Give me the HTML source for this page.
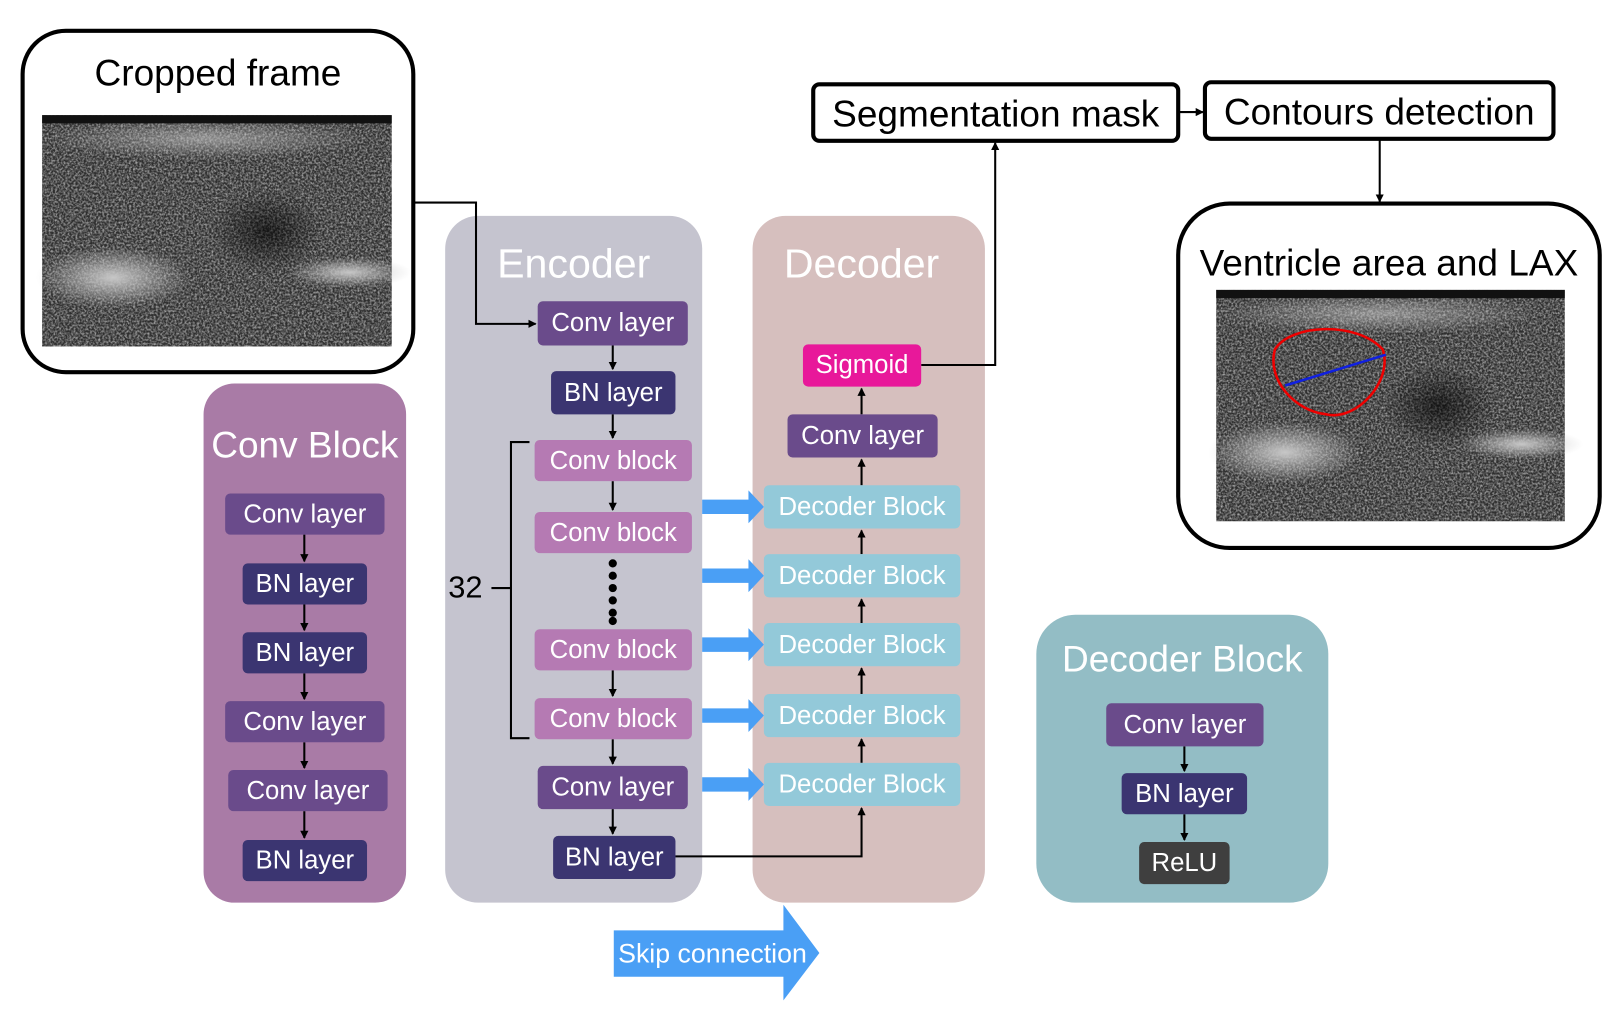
<!DOCTYPE html>
<html><head><meta charset="utf-8"><style>
*{margin:0;padding:0;box-sizing:border-box}
body{width:1610px;height:1019px;background:#fff;position:relative;overflow:hidden;font-family:"Liberation Sans",sans-serif}
#w{position:absolute;left:0;top:0;width:1566px;height:991px;transform:scale(1.0281);transform-origin:0 0}
.a{position:absolute}
.b{position:absolute;border-radius:5px;color:#fff;font-size:25px;display:flex;align-items:center;justify-content:center;white-space:nowrap}
.cl{background:#6a4b8b}.bn{background:#3b3571}.cb{background:#b57ab3}.db{background:#93c9d9}
.t{position:absolute;color:#fff;text-align:center;white-space:nowrap}
</style></head><body><div id="w">
<svg class="a" style="left:0;top:0" width="1566" height="991">
<defs>
<filter id="n" x="0" y="0" width="100%" height="100%">
<feTurbulence type="fractalNoise" baseFrequency="0.5" numOctaves="3" seed="3"/>
<feColorMatrix type="matrix" values="0 0 0 0 0.55 0 0 0 0 0.55 0 0 0 0 0.55 0 0 0 1.6 -0.55"/>
</filter>
<radialGradient id="g1"><stop offset="0" stop-color="#c8c8c8"/><stop offset="1" stop-color="#c8c8c8" stop-opacity="0"/></radialGradient>
<radialGradient id="g2"><stop offset="0" stop-color="#000" stop-opacity=".6"/><stop offset="1" stop-color="#000" stop-opacity="0"/></radialGradient>
<marker id="ar" markerWidth="8" markerHeight="8" refX="7" refY="4" orient="auto" markerUnits="userSpaceOnUse"><path d="M0,0 L8,4 L0,8 z" fill="#000"/></marker>
</defs>
<g>
<rect x="41" y="112" width="340" height="225" fill="#2e2e2e"/>
<ellipse cx="110" cy="270" rx="75" ry="30" fill="url(#g1)"/>
<ellipse cx="340" cy="265" rx="60" ry="15" fill="url(#g1)"/>
<ellipse cx="200" cy="135" rx="160" ry="20" fill="url(#g1)" opacity=".6"/>
<rect x="41" y="112" width="340" height="225" filter="url(#n)"/>
<ellipse cx="260" cy="225" rx="55" ry="40" fill="url(#g2)"/>
<rect x="41" y="112" width="340" height="8" fill="#111"/>
</g>
<rect x="22" y="30" width="380" height="332" rx="42" fill="none" stroke="#000" stroke-width="4"/>
<g>
<rect x="1183" y="282" width="339" height="225" fill="#2e2e2e"/>
<ellipse cx="1250" cy="440" rx="75" ry="30" fill="url(#g1)"/>
<ellipse cx="1480" cy="432" rx="60" ry="15" fill="url(#g1)"/>
<ellipse cx="1340" cy="305" rx="160" ry="20" fill="url(#g1)" opacity=".6"/>
<rect x="1183" y="282" width="339" height="225" filter="url(#n)"/>
<ellipse cx="1400" cy="395" rx="55" ry="40" fill="url(#g2)"/>
<rect x="1183" y="282" width="339" height="8" fill="#111"/>
<path d="M1240,340 C1255,315 1320,312 1345,340 C1355,370 1320,410 1290,403 C1260,400 1232,370 1240,340 Z" fill="none" stroke="#e00" stroke-width="2.5"/>
<line x1="1250" y1="375" x2="1348" y2="345" stroke="#1020e0" stroke-width="2.5"/>
</g>
<rect x="1146" y="198" width="410" height="335" rx="50" fill="none" stroke="#000" stroke-width="4"/>
<rect x="198" y="373" width="197" height="505" rx="30" fill="#a97ba6"/>
<rect x="433" y="210" width="250" height="668" rx="32" fill="#c5c4cf"/>
<rect x="732" y="210" width="226" height="668" rx="32" fill="#d6bfbe"/>
<rect x="1008" y="598" width="284" height="280" rx="38" fill="#93bdc5"/>
<rect x="791" y="82" width="355" height="55" rx="6" fill="#fff" stroke="#000" stroke-width="4"/>
<rect x="1172" y="80" width="339" height="55" rx="6" fill="#fff" stroke="#000" stroke-width="4"/>
<g stroke="#000" stroke-width="2" fill="none">
<polyline points="402,197 463,197 463,315 521,315" marker-end="url(#ar)"/>
<line x1="1146" y1="109" x2="1170" y2="109" marker-end="url(#ar)"/>
<line x1="1342" y1="135" x2="1342" y2="196" marker-end="url(#ar)"/>
<polyline points="896,355 968,355 968,139" marker-end="url(#ar)"/>
<polyline points="657,833 838,833 838,786" marker-end="url(#ar)"/>
<line x1="596" y1="336" x2="596" y2="359" marker-end="url(#ar)"/>
<line x1="596" y1="403" x2="596" y2="426" marker-end="url(#ar)"/>
<line x1="596" y1="468" x2="596" y2="496" marker-end="url(#ar)"/>
<line x1="596" y1="652" x2="596" y2="677" marker-end="url(#ar)"/>
<line x1="596" y1="719" x2="596" y2="743" marker-end="url(#ar)"/>
<line x1="596" y1="787" x2="596" y2="811" marker-end="url(#ar)"/>
<line x1="838" y1="742" x2="838" y2="719" marker-end="url(#ar)"/>
<line x1="838" y1="675" x2="838" y2="650" marker-end="url(#ar)"/>
<line x1="838" y1="606" x2="838" y2="583" marker-end="url(#ar)"/>
<line x1="838" y1="539" x2="838" y2="516" marker-end="url(#ar)"/>
<line x1="838" y1="472" x2="838" y2="447" marker-end="url(#ar)"/>
<line x1="838" y1="403" x2="838" y2="378" marker-end="url(#ar)"/>
<line x1="296" y1="520" x2="296" y2="546" marker-end="url(#ar)"/>
<line x1="296" y1="588" x2="296" y2="613" marker-end="url(#ar)"/>
<line x1="296" y1="655" x2="296" y2="680" marker-end="url(#ar)"/>
<line x1="296" y1="722" x2="296" y2="747" marker-end="url(#ar)"/>
<line x1="296" y1="789" x2="296" y2="815" marker-end="url(#ar)"/>
<line x1="1152" y1="726" x2="1152" y2="750" marker-end="url(#ar)"/>
<line x1="1152" y1="792" x2="1152" y2="817" marker-end="url(#ar)"/>
<polyline points="515,430 497,430 497,718 515,718"/>
<line x1="478" y1="572" x2="497" y2="572"/>
</g>
<g fill="#000"><circle cx="596" cy="548" r="4"/><circle cx="596" cy="560" r="4"/><circle cx="596" cy="572" r="4"/><circle cx="596" cy="584" r="4"/><circle cx="596" cy="596" r="4"/><circle cx="596" cy="604" r="4"/></g>
<g fill="#4a9ff5">
<path d="M683,486 H728 V477 L743,493 L728,509 V500 H683 Z"/>
<path d="M683,553 H728 V544 L743,560 L728,576 V567 H683 Z"/>
<path d="M683,620 H728 V611 L743,627 L728,643 V634 H683 Z"/>
<path d="M683,689 H728 V680 L743,696 L728,712 V703 H683 Z"/>
<path d="M683,756 H728 V747 L743,763 L728,779 V770 H683 Z"/>
<path d="M597,905 H762 V880 L797,927 L762,973 V950 H597 Z"/>
</g>
</svg>
<div class="t" style="left:22px;width:380px;top:50px;font-size:36px;color:#000">Cropped frame</div>
<div class="t" style="left:1146px;width:410px;top:235px;font-size:36px;color:#000">Ventricle area and LAX</div>
<div class="t" style="left:791px;width:355px;top:90px;font-size:36px;color:#000">Segmentation mask</div>
<div class="t" style="left:1172px;width:339px;top:88px;font-size:36px;color:#000">Contours detection</div>
<div class="t" style="left:198px;width:197px;top:412px;font-size:36px">Conv Block</div>
<div class="t" style="left:433px;width:250px;top:235px;font-size:40px">Encoder</div>
<div class="t" style="left:732px;width:212px;top:235px;font-size:40px">Decoder</div>
<div class="t" style="left:1008px;width:284px;top:620px;font-size:36px">Decoder Block</div>
<div class="t" style="left:436px;top:555px;font-size:30px;color:#000">32</div>
<div class="t" style="left:597px;width:192px;top:912px;font-size:26px">Skip connection</div>

<div class="b cl" style="left:219px;top:480px;width:155px;height:40px">Conv layer</div>
<div class="b bn" style="left:236px;top:548px;width:121px;height:40px">BN layer</div>
<div class="b bn" style="left:236px;top:615px;width:121px;height:40px">BN layer</div>
<div class="b cl" style="left:219px;top:682px;width:155px;height:40px">Conv layer</div>
<div class="b cl" style="left:222px;top:749px;width:155px;height:40px">Conv layer</div>
<div class="b bn" style="left:236px;top:817px;width:121px;height:40px">BN layer</div>

<div class="b cl" style="left:523px;top:293px;width:146px;height:43px">Conv layer</div>
<div class="b bn" style="left:536px;top:361px;width:121px;height:42px">BN layer</div>
<div class="b cb" style="left:520px;top:428px;width:153px;height:40px">Conv block</div>
<div class="b cb" style="left:520px;top:498px;width:153px;height:40px">Conv block</div>
<div class="b cb" style="left:520px;top:612px;width:153px;height:40px">Conv block</div>
<div class="b cb" style="left:520px;top:679px;width:153px;height:40px">Conv block</div>
<div class="b cl" style="left:523px;top:745px;width:146px;height:42px">Conv layer</div>
<div class="b bn" style="left:538px;top:813px;width:119px;height:42px">BN layer</div>

<div class="b" style="left:781px;top:335px;width:115px;height:41px;background:#e8189a">Sigmoid</div>
<div class="b cl" style="left:766px;top:403px;width:146px;height:42px">Conv layer</div>
<div class="b db" style="left:743px;top:472px;width:191px;height:42px">Decoder Block</div>
<div class="b db" style="left:743px;top:539px;width:191px;height:42px">Decoder Block</div>
<div class="b db" style="left:743px;top:606px;width:191px;height:42px">Decoder Block</div>
<div class="b db" style="left:743px;top:675px;width:191px;height:42px">Decoder Block</div>
<div class="b db" style="left:743px;top:742px;width:191px;height:42px">Decoder Block</div>

<div class="b cl" style="left:1076px;top:684px;width:153px;height:42px">Conv layer</div>
<div class="b bn" style="left:1091px;top:752px;width:122px;height:40px">BN layer</div>
<div class="b" style="left:1108px;top:819px;width:88px;height:41px;background:#3f3f3f">ReLU</div>
</div></body></html>
